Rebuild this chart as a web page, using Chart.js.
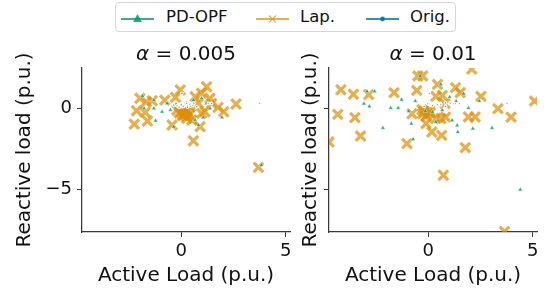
<!DOCTYPE html>
<html>
<head>
<meta charset="utf-8">
<script src="https://cdn.jsdelivr.net/npm/chart.js@4.4.1/dist/chart.umd.min.js"></script>
<style>
  html, body { margin: 0; padding: 0; background: #fff; }
  #wrap { position: relative; width: 547px; height: 292px; overflow: hidden; font-family: "DejaVu Sans", sans-serif; }
  canvas { position: absolute; top: 0; }
  #legend { position: absolute; left: 115px; top: 2px; width: 339px; height: 28px; border: 1px solid #d6d6d6; border-radius: 4px; background: #fff; }
  .lt { position: absolute; top: 4px; font-size: 16.5px; color: #111; line-height: 20px; }
  .lh { position: absolute; top: 6px; }
</style>
</head>
<body>
<div id="wrap">
  <canvas id="c1" width="300" height="292" style="left:0px;width:300px;height:292px"></canvas>
  <canvas id="c2" width="257" height="292" style="left:290px;width:257px;height:292px"></canvas>
  <div id="legend">
    <svg class="lh" style="left:4px" width="36" height="18"><line x1="1" y1="10" x2="34" y2="10" stroke="rgba(2,158,115,0.8)" stroke-width="2"/><polygon points="17.5,5 22,13 13,13" fill="rgba(2,158,115,0.85)"/></svg>
    <span class="lt" style="left:50px">PD-OPF</span>
    <svg class="lh" style="left:139px" width="36" height="18"><line x1="1" y1="10" x2="34" y2="10" stroke="rgba(222,143,5,0.7)" stroke-width="2"/><path d="M14,6.5 L21,13.5 M21,6.5 L14,13.5" stroke="rgba(222,143,5,0.7)" stroke-width="1.2"/></svg>
    <span class="lt" style="left:184px">Lap.</span>
    <svg class="lh" style="left:249px" width="36" height="18"><line x1="1" y1="10" x2="34" y2="10" stroke="rgba(1,115,178,0.8)" stroke-width="2"/><circle cx="17.5" cy="10" r="2.4" fill="rgba(1,115,178,0.9)"/></svg>
    <span class="lt" style="left:294px">Orig.</span>
  </div>
</div>
<script>
// ---------- data (p.u.) ----------
const titles = ["0.005", "0.01"];
const xTickValues = [0, 5];
const yTickValues = [-5, 0];

// alpha = 0.005
const lapX1 = [-2.25,-2.14,-1.98,-1.73,-1.62,-1.67,-1.39,-0.79,-0.44,-0.28,-0.05,-0.21,0.11,0.26,0.50,0.58,0.66,0.90,0.97,1.21,1.13,1.37,1.45,1.76,2.03,2.62,3.69,0.82,0.42,0.97,0.00,0.15,0.30,0.05,0.25,-0.10,0.40,0.20];
const lapY1 = [-0.99,-0.17,0.60,-0.27,-0.80,0.39,0.45,0.49,-1.05,0.66,1.11,-0.12,-0.43,-0.64,-0.74,-2.02,0.70,-1.15,0.91,1.31,-0.23,0.60,0.29,0.04,-0.23,0.25,-3.66,0.29,0.08,-0.33,-0.25,-0.35,-0.20,-0.45,-0.50,-0.30,-0.40,-0.10];
const pdX1 = [-1.86,-1.78,-1.31,-1.23,-1.31,-0.92,-0.68,-0.52,-0.36,-0.25,0.66,0.82,0.97,1.05,1.37,1.95,3.83,0.58,1.21];
const pdY1 = [0.74,-0.02,0.49,-0.78,-0.02,-0.23,0.29,-0.12,-1.15,0.23,-0.74,-1.05,0.60,-0.58,-0.02,-0.58,-3.52,0.49,0.29];
const orX1 = [0.03,0.42,0.74,1.29,1.45,3.75,-0.13,0.05,-0.36,-0.20,0.00,0.20,0.40,0.55,0.10,0.30,-0.10,0.60,0.25,0.45];
const orY1 = [0.91,0.29,0.08,0.29,0.29,0.29,0.08,0.10,0.18,0.15,0.20,0.25,0.20,0.15,0.10,0.05,0.05,0.30,0.28,0.12];

// alpha = 0.01
const lapX2 = [-4.18,-3.58,-2.85,-4.33,-3.51,-3.24,-4.75,-1.64,-1.02,-0.78,-0.55,-0.50,-0.27,-0.27,-0.11,0.17,0.36,0.44,0.67,0.80,0.64,0.72,0.36,0.60,0.83,1.30,1.53,1.77,1.92,2.24,2.08,2.52,3.33,3.96,3.65,5.08,-0.20,-0.05,0.05,-0.10,0.10,-0.30];
const lapY2 = [1.13,0.85,0.83,-0.39,-0.59,-1.73,-2.10,0.95,-2.20,-0.35,1.09,1.98,1.98,-0.35,-0.96,-1.48,0.72,1.46,0.78,0.27,-1.69,-4.15,-0.65,-0.65,-0.56,1.26,0.95,-2.44,-0.55,-0.55,2.40,0.72,-0.04,-0.56,-7.62,0.43,-0.20,-0.35,-0.15,-0.50,-0.30,-0.10];
const pdX2 = [-2.93,-2.57,-3.08,-2.82,-2.17,-1.80,-1.44,-1.28,-0.62,-0.81,-0.73,-0.94,-0.39,0.60,0.67,0.36,1.02,1.14,1.38,1.41,1.33,1.69,1.92,2.13,2.44,3.05,4.40,-0.14,0.20];
const pdY2 = [1.03,1.03,0.27,0.10,-1.23,0.00,0.00,0.52,0.43,-0.96,-1.93,-0.19,1.98,1.46,-0.14,-0.86,0.68,-0.76,-1.07,-1.48,0.43,0.89,0.00,-1.27,0.43,-1.23,-5.04,-0.19,-0.25];
const orX2 = [0.05,0.83,1.22,1.49,3.77,0.44,1.30,-0.03,0.83,0.20,0.60,-0.20,1.05];
const orY2 = [0.89,0.31,0.27,0.27,0.27,0.21,0.27,0.27,0.10,0.15,0.20,0.10,0.30];

const xMin = -4.75, xMax = 5.2, yMin = -7.65, yMax = 2.47;

// ---------- helpers ----------
function pts(xs, ys) { return xs.map((x, i) => ({ x: x, y: ys[i] })); }
const FONT = '"DejaVu Sans", sans-serif';
const AXIS = '#3a3a3a';

const titlePlugin = {
  id: 'alphaTitle',
  afterDraw(chart, args, opts) {
    const ctx = chart.ctx;
    const ca = chart.chartArea;
    const cx = (ca.left + ca.right) / 2;
    const y = opts.y;
    ctx.save();
    ctx.fillStyle = '#111';
    ctx.textBaseline = 'middle';
    ctx.font = 'italic 20px ' + FONT;
    const a = 'α';
    const rest = ' = ' + opts.value;
    const wa = ctx.measureText(a).width;
    ctx.font = '20px ' + FONT;
    const wr = ctx.measureText(rest).width;
    let x0 = cx - (wa + wr) / 2;
    ctx.textAlign = 'left';
    ctx.font = 'italic 20px ' + FONT;
    ctx.fillText(a, x0, y);
    ctx.font = '20px ' + FONT;
    ctx.fillText(rest, x0 + wa, y);
    ctx.restore();
  }
};

function makeChart(id, lapX, lapY, pdX, pdY, orX, orY, title, isLeft) {
  const yWidth = isLeft ? 82 : 39;
  return new Chart(document.getElementById(id), {
    type: 'scatter',
    data: {
      datasets: [
        { label: 'Orig.', data: pts(orX, orY), pointStyle: 'circle', pointRadius: 1.3,
          backgroundColor: 'rgba(1,115,178,0.55)', borderColor: 'rgba(255,255,255,0.95)', borderWidth: 1.2, clip: 0 },
        { label: 'PD-OPF', data: pts(pdX, pdY), pointStyle: 'triangle', pointRadius: 2.6,
          backgroundColor: 'rgba(2,158,115,0.85)', borderColor: 'rgba(255,255,255,0.9)', borderWidth: 0.5, clip: 0 },
        { label: 'Lap.', data: pts(lapX, lapY), pointStyle: 'crossRot', pointRadius: 6.8,
          backgroundColor: 'rgba(222,143,5,0.72)', borderColor: 'rgba(222,143,5,0.72)', borderWidth: 3.2, clip: 0 }
      ]
    },
    options: {
      responsive: false,
      animation: false,
      devicePixelRatio: 1,
      layout: { padding: { top: 68, right: 7, bottom: 0, left: 0 } },
      plugins: {
        legend: { display: false },
        tooltip: { enabled: false },
        title: { display: false },
        alphaTitle: { value: title, y: 55 }
      },
      scales: {
        x: {
          type: 'linear', min: xMin, max: xMax,
          afterFit: (s) => { s.height = 60; },
          afterBuildTicks: (s) => { s.ticks = xTickValues.map(v => ({ value: v })); },
          grid: { drawOnChartArea: false, drawTicks: true, tickLength: 5, color: AXIS, lineWidth: 1 },
          border: { display: true, color: AXIS, width: 1.25 },
          ticks: { font: { family: FONT, size: 18 }, color: '#111', padding: 4, maxRotation: 0,
                   callback: (v) => (v < 0 ? '\u2212' + Math.abs(v) : String(v)) },
          title: { display: true, text: 'Active Load (p.u.)', color: '#111',
                   font: { family: FONT, size: 20 }, padding: { top: 0, bottom: 4 } }
        },
        y: {
          type: 'linear', min: yMin, max: yMax,
          afterFit: (s) => { s.width = yWidth; },
          afterBuildTicks: (s) => { s.ticks = yTickValues.map(v => ({ value: v })); },
          grid: { drawOnChartArea: false, drawTicks: true, tickLength: 5, color: AXIS, lineWidth: 1 },
          border: { display: true, color: AXIS, width: 1.25 },
          ticks: { font: { family: FONT, size: 18 }, color: '#111', padding: 5,
                   callback: (v) => (isLeft ? (v < 0 ? '\u2212' + Math.abs(v) : String(v)) : '') },
          title: { display: true, text: 'Reactive load (p.u.)', color: '#111',
                   font: { family: FONT, size: 20 }, padding: { top: isLeft ? 13 : 9, bottom: 0 } }
        }
      }
    },
    plugins: [titlePlugin]
  });
}

makeChart('c1', lapX1, lapY1, pdX1, pdY1, orX1, orY1, titles[0], true);
makeChart('c2', lapX2, lapY2, pdX2, pdY2, orX2, orY2, titles[1], false);
</script>
</body>
</html>
